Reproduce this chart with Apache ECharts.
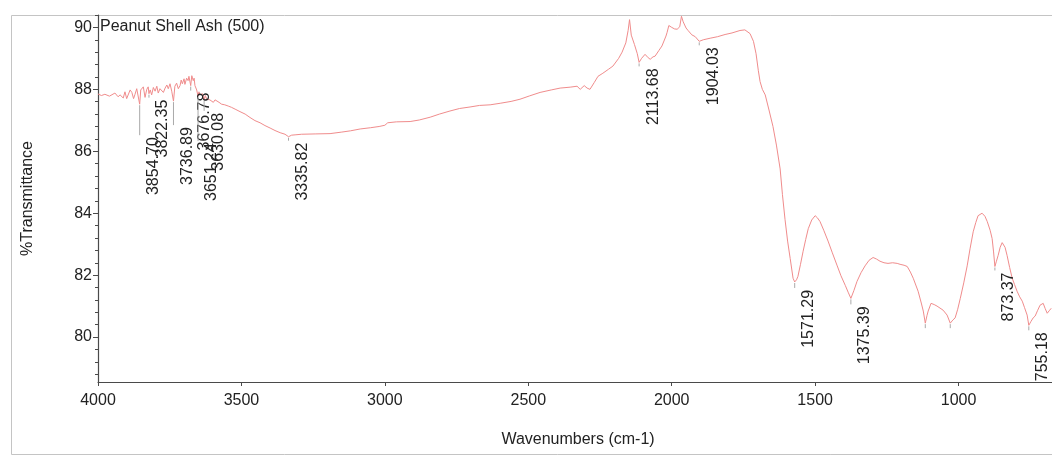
<!DOCTYPE html>
<html>
<head>
<meta charset="utf-8">
<title>Peanut Shell Ash (500) FTIR</title>
<script src="https://cdn.jsdelivr.net/npm/echarts@6/dist/echarts.min.js"></script>
<style>
  html, body { margin: 0; padding: 0; background: #ffffff; overflow: hidden; }
  #chart { width: 1102px; height: 462px; }
</style>
</head>
<body>
<div id="chart"></div>
<script>
// FTIR spectrum of peanut shell ash (500), wavenumber (cm-1) vs %T
const wavenumbers = [
  4000, 3988, 3976, 3960, 3941, 3930, 3923, 3912, 3906, 3900, 3894, 3888, 3882, 3876, 3871, 3865, 3859,
  3854.70, 3851, 3848, 3842, 3836, 3830, 3825, 3822.35, 3818, 3813, 3807, 3801, 3795, 3790, 3784, 3778,
  3772, 3766, 3760, 3755, 3749, 3743, 3736.89, 3732, 3726, 3720, 3714, 3710, 3706, 3700, 3697, 3691,
  3686, 3683, 3680, 3676.78, 3673, 3668, 3665, 3662, 3656, 3651.24, 3648, 3644, 3636, 3630.08, 3626,
  3621, 3615, 3610, 3604, 3598, 3592, 3586, 3578, 3569, 3558, 3546, 3535, 3522, 3505, 3487, 3470, 3453,
  3435, 3418, 3400, 3383, 3365, 3348, 3335.82, 3325, 3313, 3290, 3243, 3191, 3150, 3120, 3086, 3050,
  3020, 3000, 2990, 2960, 2912, 2880, 2842, 2810, 2773, 2740, 2703, 2670, 2633, 2598, 2560, 2529, 2495,
  2459, 2420, 2389, 2354, 2330, 2319, 2305, 2295, 2285, 2270, 2257, 2240, 2220, 2205, 2185, 2173, 2160,
  2152, 2147, 2141, 2130, 2120, 2113.68, 2105, 2093, 2082, 2075, 2065, 2058, 2045, 2034, 2020, 2016,
  2010, 2000, 1990, 1981, 1972, 1966, 1960, 1950, 1943, 1930, 1918, 1904.03, 1890, 1866, 1840, 1814,
  1790, 1762, 1745, 1727, 1715, 1706, 1698, 1692, 1684, 1674, 1660, 1647, 1635, 1622, 1614, 1605, 1596,
  1587, 1577, 1571.29, 1565, 1560, 1551, 1542, 1533, 1524, 1512, 1500, 1492, 1483, 1470, 1455, 1440,
  1423, 1410, 1395, 1385, 1375.39, 1365, 1354, 1340, 1326, 1312, 1298, 1286, 1274, 1260, 1246, 1230,
  1214, 1204, 1190, 1179, 1168, 1158, 1141, 1130, 1123, 1116, 1110, 1106, 1096, 1085, 1075, 1054, 1040,
  1029, 1020, 1012, 1003, 994, 982, 970, 960, 949, 940, 932, 918, 908, 900, 890, 883, 878, 873.37, 868,
  862, 855, 848, 845, 838, 831, 822, 813, 805, 796, 787, 778, 770, 761, 755.18, 748, 740, 733, 725, 716,
  705, 698, 691, 684, 677
];
const transmittance = [
  87.85, 87.80, 87.84, 87.78, 87.88, 87.76, 87.82, 87.72, 87.92, 87.70, 87.76, 87.98, 87.90, 87.70, 87.84, 88.02, 87.96,
  87.52, 87.98, 87.92, 88.08, 87.74, 88.00, 88.08, 87.86, 87.98, 87.82, 88.06, 87.94, 88.10, 87.88, 88.02, 88.08,
  87.90, 88.04, 88.14, 88.02, 88.18, 87.94, 87.62, 88.10, 88.20, 88.02, 88.12, 88.30, 88.18, 88.34, 88.16, 88.36,
  88.28, 88.42, 88.38, 88.12, 88.44, 88.28, 88.36, 88.12, 87.98, 87.78, 87.92, 87.82, 87.86, 87.66, 87.80,
  87.68, 87.74, 87.66, 87.70, 87.58, 87.66, 87.60, 87.58, 87.52, 87.50, 87.46, 87.42, 87.36, 87.28, 87.20, 87.09, 86.99,
  86.92, 86.83, 86.75, 86.67, 86.60, 86.55, 86.47, 86.52, 86.53, 86.55, 86.56, 86.57, 86.62, 86.66, 86.72, 86.76,
  86.80, 86.84, 86.92, 86.95, 86.96, 87.01, 87.10, 87.20, 87.30, 87.38, 87.43, 87.48, 87.50, 87.55, 87.61, 87.68, 87.79,
  87.90, 87.98, 88.04, 88.07, 88.10, 88.00, 88.12, 88.04, 88.00, 88.22, 88.42, 88.52, 88.65, 88.75, 89.00, 89.20, 89.50,
  89.90, 90.25, 89.75, 89.45, 89.15, 88.87, 89.00, 89.13, 89.02, 88.97, 89.05, 89.07, 89.25, 89.40, 89.72, 89.84,
  90.06, 90.00, 89.95, 89.94, 90.02, 90.36, 90.18, 89.98, 89.90, 89.76, 89.70, 89.55, 89.60, 89.65, 89.70, 89.77,
  89.82, 89.90, 89.92, 89.80, 89.55, 89.15, 88.60, 88.25, 88.00, 87.82, 87.30, 86.80, 86.20, 85.43, 84.60, 83.80, 83.10,
  82.54, 81.90, 81.78, 81.85, 81.96, 82.35, 82.77, 83.15, 83.50, 83.78, 83.92, 83.85, 83.73, 83.45, 83.10, 82.72,
  82.30, 81.98, 81.67, 81.45, 81.25, 81.50, 81.80, 82.08, 82.30, 82.48, 82.57, 82.52, 82.45, 82.40, 82.38, 82.40,
  82.38, 82.35, 82.32, 82.28, 82.10, 81.90, 81.48, 81.10, 80.84, 80.45, 80.70, 80.84, 81.09, 81.05, 81.00, 80.87, 80.71,
  80.45, 80.55, 80.62, 80.90, 81.25, 81.75, 82.30, 82.85, 83.40, 83.70, 83.92, 84.00, 83.90, 83.73, 83.45, 83.18, 82.75, 82.28, 82.45,
  82.64, 82.90, 83.05, 83.09, 82.90, 82.64, 82.25, 81.90, 81.70, 81.48, 81.30, 81.16, 80.95, 80.71, 80.38, 80.50, 80.62, 80.68, 80.85, 81.03,
  81.09, 80.92, 80.77, 80.85, 80.93
];

// Picked bands (labelled) and the leader drop below each band, in px
const peakLabels = ['3854.70', '3822.35', '3736.89', '3676.78', '3651.24', '3630.08', '3335.82',
                    '2113.68', '1904.03', '1571.29', '1375.39', '873.37', '755.18'];
const labelDrop = [33, 6, 26, 7, 47, 13, 6, 6, 6, 8, 8, 6, 7];
// Picked bands without a printed value
const unlabeledMinima = [1116, 1029];

const xTicks = [4000, 3500, 3000, 2500, 2000, 1500, 1000];
const yTicks = [80, 82, 84, 86, 88, 90];

const FONT = '"Liberation Sans", Arial, Helvetica, sans-serif';
const Y_MIN = 78.55, Y_MAX = 90.4;

// minor ticks every 0.4 %T between the labelled ones
const yMinor = [];
for (let k = Math.ceil(Y_MIN / 0.4); k * 0.4 <= Y_MAX; k++) {
  const v = Math.round(k * 0.4 * 10) / 10;
  if (yTicks.indexOf(v) < 0) yMinor.push(v);
}

const spectrum = wavenumbers.map((w, i) => [w, transmittance[i]]);
const peakData = peakLabels.map((s, i) => {
  const w = parseFloat(s);
  const idx = wavenumbers.indexOf(w);
  return [w, transmittance[idx], labelDrop[i]];
});
const minimaData = unlabeledMinima.map(w => [w, transmittance[wavenumbers.indexOf(w)]]);

const chart = echarts.init(document.getElementById('chart'), null, { renderer: 'canvas' });

chart.setOption({
  animation: false,
  backgroundColor: '#ffffff',
  grid: { left: 98, right: 0, top: 15, bottom: 80, containLabel: false, outerBoundsMode: 'none' },
  xAxis: {
    type: 'value',
    min: 500,
    max: 4000,
    interval: 500,
    inverse: true,
    axisLine: { lineStyle: { color: '#4a4a4a', width: 1.2 } },
    axisTick: { show: true, inside: false, length: 4, customValues: xTicks, lineStyle: { color: '#4a4a4a' } },
    axisLabel: {
      color: '#222', fontSize: 16, fontFamily: FONT, margin: 11,
      customValues: xTicks,
      formatter: v => String(v)
    },
    splitLine: { show: false }
  },
  yAxis: [
    {
      type: 'value',
      min: Y_MIN,
      max: Y_MAX,
      position: 'left',
      axisLine: { show: true, lineStyle: { color: '#4a4a4a', width: 1.2 } },
      axisTick: { show: true, inside: false, length: 5, customValues: yTicks, lineStyle: { color: '#4a4a4a' } },
      axisLabel: { color: '#222', fontSize: 16, fontFamily: FONT, margin: 6, customValues: yTicks },
      splitLine: { show: false },
      name: '%Transmittance',
      nameLocation: 'middle',
      nameGap: 62,
      nameRotate: 90,
      nameTextStyle: { color: '#222', fontSize: 16, fontFamily: FONT }
    },
    {
      type: 'value',
      min: Y_MIN,
      max: Y_MAX,
      position: 'left',
      offset: 0,
      axisLine: { show: false },
      axisTick: { show: true, inside: false, length: 3, customValues: yMinor, lineStyle: { color: '#4a4a4a' } },
      axisLabel: { show: false },
      splitLine: { show: false }
    }
  ],
  graphic: [
    {
      type: 'rect',
      z: -10,
      silent: true,
      shape: { x: 11.5, y: 15.5, width: 1200, height: 439 },
      style: { fill: 'none', stroke: '#c4c4c4', lineWidth: 1 }
    },
    {
      type: 'text',
      left: 100,
      top: 19,
      style: { text: 'Peanut Shell Ash (500)', fill: '#222', font: '16px ' + FONT }
    },
    {
      type: 'text',
      x: 578,
      y: 440,
      style: { text: 'Wavenumbers (cm-1)', fill: '#222', font: '16px ' + FONT, align: 'center', verticalAlign: 'middle' }
    }
  ],
  series: [
    {
      type: 'line',
      data: spectrum,
      showSymbol: false,
      symbol: 'none',
      smooth: false,
      lineStyle: { color: '#f08c8c', width: 1 },
      z: 3
    },
    {
      type: 'custom',
      data: peakData,
      z: 4,
      renderItem: function (params, api) {
        const w = api.value(0), t = api.value(1), drop = api.value(2);
        const p = api.coord([w, t]);
        return {
          type: 'group',
          children: [
            {
              type: 'line',
              shape: { x1: p[0], y1: p[1] + 1, x2: p[0], y2: p[1] + drop - 2 },
              style: { stroke: '#a9a9a9', lineWidth: 1 }
            },
            {
              type: 'text',
              x: p[0] + 14,
              y: p[1] + drop,
              rotation: Math.PI / 2,
              style: {
                text: peakLabels[params.dataIndex],
                fill: '#222',
                font: '16px ' + FONT,
                align: 'right',
                verticalAlign: 'middle'
              }
            }
          ]
        };
      }
    },
    {
      type: 'custom',
      data: minimaData,
      z: 4,
      renderItem: function (params, api) {
        const p = api.coord([api.value(0), api.value(1)]);
        return {
          type: 'line',
          shape: { x1: p[0], y1: p[1] + 1, x2: p[0], y2: p[1] + 5 },
          style: { stroke: '#a9a9a9', lineWidth: 1 }
        };
      }
    }
  ]
});
</script>
</body>
</html>
